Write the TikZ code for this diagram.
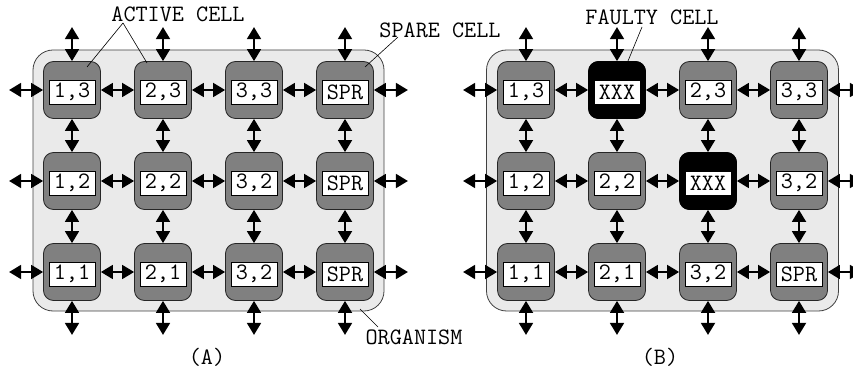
\documentclass[tikz,border=0pt]{standalone}
\usepackage{fontspec}
\usetikzlibrary{arrows.meta}
\definecolor{orgfill}{RGB}{234,234,234}
\definecolor{cellfill}{RGB}{128,128,128}
\tikzset{
  organism/.style={draw=black!75, fill=orgfill, line width=0.8pt, rounded corners=20pt},
  cell/.style={draw=black!85, fill=cellfill, line width=0.8pt, rounded corners=10pt,
               minimum width=57pt, minimum height=57pt, inner sep=0pt},
  faulty/.style={cell, draw=black, fill=black},
  lbl/.style={draw=black, fill=white, line width=0.6pt, minimum width=46pt,
              minimum height=24pt, inner sep=0pt, font=\ttfamily\fontsize{23.5}{24}\selectfont},
  caption/.style={font=\ttfamily\fontsize{23.5}{24}\selectfont, inner sep=0pt},
  link/.style={line width=1.8pt, {Triangle[length=12pt 0 0,width=14pt 0 0]}-{Triangle[length=12pt 0 0,width=14pt 0 0]}},
  callout/.style={line width=0.6pt}
}
\begin{document}
\begin{tikzpicture}[x=1pt, y=-1pt]
\useasboundingbox (0,0) rectangle (853,371);

% organisms (background panels)
\node[organism, minimum width=351pt, minimum height=261pt, inner sep=0pt] (orgA) at (208.5,180.5) {};
\node[organism, minimum width=352pt, minimum height=261pt, inner sep=0pt] (orgB) at (662.5,180.5) {};

% cells of panel A
\foreach \c/\x in {1/72,2/163,3/254,4/345}{
  \foreach \r/\y in {3/90,2/181,1/272}{
    \node[cell] (A\c\r) at (\x,\y) {};
  }
}
% cells of panel B
\foreach \c/\x in {1/526,2/617,3/708,4/799}{
  \foreach \r/\y in {3/90,2/181,1/272}{
    \node[cell] (B\c\r) at (\x,\y) {};
  }
}
% faulty cells
\node[faulty] (B23) at (617,90) {};
\node[faulty] (B32) at (708,181) {};

% labels panel A
\foreach \n/\t in {A13/{1,3},A23/{2,3},A33/{3,3},A43/SPR,
                   A12/{1,2},A22/{2,2},A32/{3,2},A42/SPR,
                   A11/{1,1},A21/{2,1},A31/{3,2},A41/SPR}{
  \node[lbl] (\n l) at ([yshift=-2pt]\n.center) {\t};
}
% labels panel B
\foreach \n/\t in {B13/{1,3},B23/XXX,B33/{2,3},B43/{3,3},
                   B12/{1,2},B22/{2,2},B32/XXX,B42/{3,2},
                   B11/{1,1},B21/{2,1},B31/{3,2},B41/SPR}{
  \node[lbl] (\n l) at ([yshift=-2pt]\n.center) {\t};
}

% links between neighbouring cells and to the outside
\foreach \p in {A,B}{
  \foreach \r in {1,2,3}{
    \draw[link] (\p1\r.west) -- ++(-34,0);
    \draw[link] (\p1\r.east) -- (\p2\r.west);
    \draw[link] (\p2\r.east) -- (\p3\r.west);
    \draw[link] (\p3\r.east) -- (\p4\r.west);
    \draw[link] (\p4\r.east) -- ++(34,0);
  }
  \foreach \c in {1,2,3,4}{
    \draw[link] (\p\c3.north) -- ++(0,-34);
    \draw[link] (\p\c3.south) -- (\p\c2.north);
    \draw[link] (\p\c2.south) -- (\p\c1.north);
    \draw[link] (\p\c1.south) -- ++(0,34);
  }
}

% captions and callouts
\node[caption] (active) at (178,14) {ACTIVE CELL};
\coordinate (activeRoot) at (123,23);
\draw[callout] (activeRoot) -- (87,67);
\draw[callout] (activeRoot) -- (147,63);

\node[caption] (spare) at (440,30) {SPARE CELL};
\draw[callout] (398,37) -- (365,67);

\node[caption] (faultyLbl) at (652,17) {FAULTY CELL};
\draw[callout] (642,27) -- (628,61);

\node[caption] (organismLbl) at (414,337) {ORGANISM};
\draw[callout] (378,327) -- (360,309);

\node[caption] (capA) at (207,357) {(A)};
\node[caption] (capB) at (660,357) {(B)};
\end{tikzpicture}
\end{document}
